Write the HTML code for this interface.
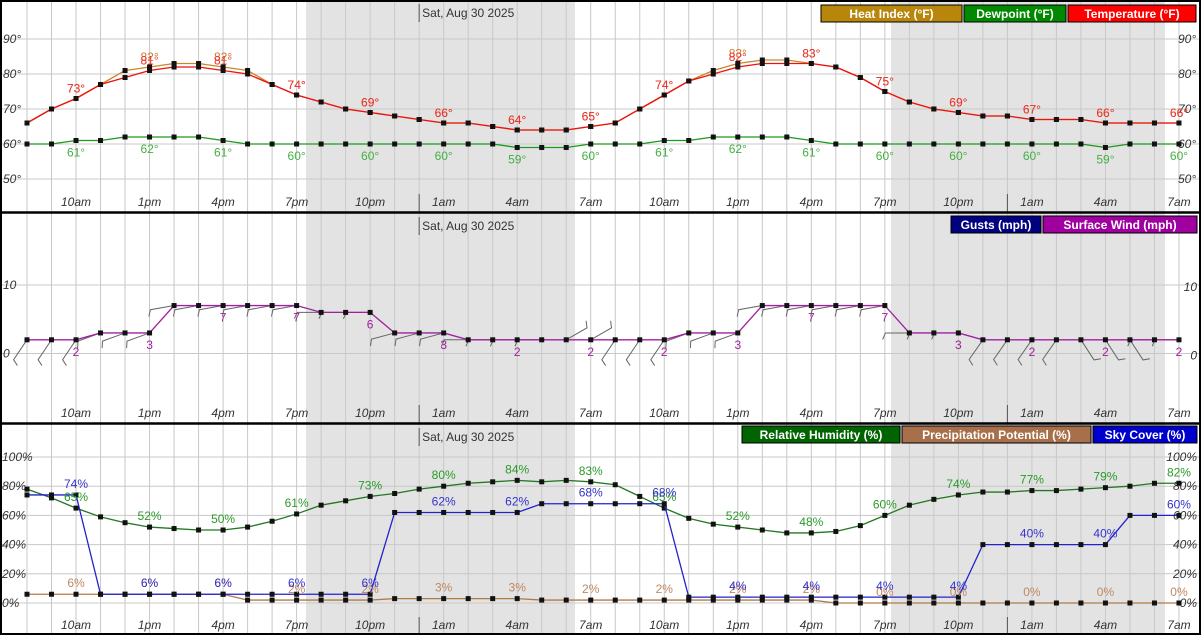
<!DOCTYPE html>
<html><head><meta charset="utf-8"><style>
html,body{margin:0;padding:0;background:#fff;}
svg{display:block;font-family:"Liberation Sans",sans-serif;}
.ax{font-size:12px;font-style:italic;fill:#333;}
.lv{font-size:12px;text-anchor:middle;}
.lg{font-size:12px;font-weight:bold;fill:#fff;}
</style></head><body>
<svg id="chart" width="1201" height="635" viewBox="0 0 1201 635"></svg>
<script>
const hours = ["10am","1pm","4pm","7pm","10pm","1am","4am","7am","10am","1pm","4pm","7pm","10pm","1am","4am","7am"];
const temperature = [66,70,73,77,79,81,82,82,81,80,77,74,72,70,69,68,67,66,66,65,64,64,64,65,66,70,74,78,80,82,83,83,83,82,79,75,72,70,69,68,68,67,67,67,66,66,66,66];
const heatIndex = [66,70,73,77,81,82,83,83,82,81,77,74,72,70,69,68,67,66,66,65,64,64,64,65,66,70,74,78,81,83,84,84,83,82,79,75,72,70,69,68,68,67,67,67,66,66,66,66];
const dewpoint = [60,60,61,61,62,62,62,62,61,60,60,60,60,60,60,60,60,60,60,60,59,59,59,60,60,60,61,61,62,62,62,62,61,60,60,60,60,60,60,60,60,60,60,60,59,60,60,60];
const windSpeed = [2,2,2,3,3,3,7,7,7,7,7,7,6,6,6,3,3,3,2,2,2,2,2,2,2,2,2,3,3,3,7,7,7,7,7,7,3,3,3,2,2,2,2,2,2,2,2,2];
const windBarbAngle = [124,124,124,160,160,160,170,170,170,170,170,170,180,180,180,165,165,165,180,180,180,180,330,330,124,124,124,160,160,160,170,170,170,170,170,170,180,180,180,125,125,125,125,57,57,57,180,180];
const humidity = [78,72,65,59,55,52,51,50,50,52,56,61,67,70,73,75,78,80,82,83,84,83,84,83,81,73,65,58,54,52,50,48,48,49,53,60,67,71,74,76,76,77,77,78,79,80,82,82];
const skyCover = [74,74,74,6,6,6,6,6,6,6,6,6,6,6,6,62,62,62,62,62,62,68,68,68,68,68,68,4,4,4,4,4,4,4,4,4,4,4,4,40,40,40,40,40,40,60,60,60];
const precip = [6,6,6,6,6,6,6,6,6,2,2,2,2,2,2,3,3,3,3,3,3,2,2,2,2,2,2,2,2,2,2,2,2,0,0,0,0,0,0,0,0,0,0,0,0,0,0,0];
const tempTicks = [50,60,70,80,90];
const windTicks = [0,10];
const pctTicks = [0,20,40,60,80,100];

const svg = document.getElementById('chart');
const NS = 'http://www.w3.org/2000/svg';
function mk(tag, attrs, parent){const e=document.createElementNS(NS,tag);for(const k in attrs)e.setAttribute(k,attrs[k]);(parent||svg).appendChild(e);return e;}
const x = i => 27 + i*24.51;
const yT = v => 144 - (v-60)*3.5;
const yW = v => 353.5 - v*6.85;
const yP = v => 603 - v*1.46;
const panels = [{top:0,bot:212},{top:213,bot:423},{top:424,bot:635}];

panels.forEach((p,pi)=>{
  let s1 = mk('rect',{x:306,y:p.top,width:269,height:p.bot-p.top,fill:'#e3e3e3'});
  
  
  let s2 = mk('rect',{x:891,y:p.top,width:274,height:p.bot-p.top,fill:'#e3e3e3'});
  
  
  for(let i=0;i<48;i++){
    mk('line',{x1:x(i),x2:x(i),y1:p.top,y2:p.bot,stroke:'#c8c8c8','stroke-width':1});
  }
  hours.forEach((h,k)=>{
    const t = mk('text',{x:x(2+3*k),y:p.bot-6,class:'ax','text-anchor':'middle'});
    t.textContent = h;
    
    
  });
  mk('line',{x1:x(16),x2:x(16),y1:p.bot-18,y2:p.bot,stroke:'#555'});
  mk('line',{x1:x(40),x2:x(40),y1:p.bot-18,y2:p.bot,stroke:'#555'});
  mk('line',{x1:x(16),x2:x(16),y1:p.top+4,y2:p.top+22,stroke:'#555'});
  const d = mk('text',{x:x(16)+3,y:p.top+17,'font-size':12,fill:'#333'});
  d.textContent = 'Sat, Aug 30 2025';
  
  
});

tempTicks.forEach(v=>{
  mk('line',{x1:0,x2:1201,y1:yT(v),y2:yT(v),stroke:'#c8c8c8'});
  const a=mk('text',{x:3,y:yT(v)+4,class:'ax'});a.textContent=v+'°';
  
  
  const b=mk('text',{x:1178,y:yT(v)+4,class:'ax'});b.textContent=v+'°';
  
  
});
windTicks.forEach(v=>{
  mk('line',{x1:0,x2:1201,y1:yW(v),y2:yW(v),stroke:'#c8c8c8'});
  const a=mk('text',{x:3,y:yW(v)+4,class:'ax'});a.textContent=v;
  
  
  const b=mk('text',{x:1197,y:yW(v)+6,class:'ax','text-anchor':'end'});b.textContent=v;
  
  
});
pctTicks.forEach(v=>{
  mk('line',{x1:0,x2:1201,y1:yP(v),y2:yP(v),stroke:'#c8c8c8'});
  const a=mk('text',{x:2,y:yP(v)+4,class:'ax'});a.textContent=v+'%';
  
  
  const b=mk('text',{x:1197,y:yP(v)+4,class:'ax','text-anchor':'end'});b.textContent=v+'%';
  
  
});

function series(arr, yf, color, name){
  const pts = arr.map((v,i)=>x(i)+','+yf(v)).join(' ');
  const l = mk('polyline',{points:pts,fill:'none',stroke:color,'stroke-width':1.3});
  
  
  arr.forEach((v,i)=>{
    const r = mk('rect',{x:x(i)-2.5,y:yf(v)-2.5,width:5,height:5,fill:'#111'});
    
    
  });
}
function labels(arr, yf, color, dy, suffix, name){
  for(let i=2;i<48;i+=3){
    const t = mk('text',{x:x(i),y:yf(arr[i])+dy,class:'lv',fill:color});
    t.textContent = arr[i]+suffix;
    
    
  }
}

series(dewpoint,yT,'#1a9a1a','dewpoint');
series(heatIndex,yT,'#c8892a','heat-index');
series(temperature,yT,'#ee1111','temperature');
labels(heatIndex,yT,'#d07a20',-6,'°','heat-index');
labels(temperature,yT,'#ee3333',-6,'°','temperature');
labels(dewpoint,yT,'#44b044',16,'°','dewpoint');

windSpeed.forEach((v,i)=>{
  const a = windBarbAngle[i]*Math.PI/180;
  const x0=x(i), y0=yW(v);
  const x1=x0+24*Math.cos(a), y1=y0+24*Math.sin(a);
  const pa = a - Math.PI/2;
  const x2=x1+7*Math.cos(pa+0.4), y2=y1+7*Math.sin(pa+0.4);
  const b = mk('polyline',{points:`${x0},${y0} ${x1},${y1} ${x2},${y2}`,fill:'none',stroke:'#666','stroke-width':1});
  
  
});
series(windSpeed,yW,'#a020a0','surface-wind');
labels(windSpeed,yW,'#a020a0',16,'','surface-wind');

series(precip,yP,'#b07a4a','precip-potential');
series(humidity,yP,'#227722','relative-humidity');
series(skyCover,yP,'#2222cc','sky-cover');
labels(precip,yP,'#c08860',-7,'%','precip-potential');
labels(humidity,yP,'#2a9a2a',-7,'%','relative-humidity');
labels(skyCover,yP,'#3333cc',-7,'%','sky-cover');

function legend(x0,y0,w,text,bg,name){
  const g = mk('g',{});
  
  
  mk('rect',{x:x0,y:y0,width:w,height:17,fill:bg,stroke:'#000','stroke-width':1},g);
  const t = mk('text',{x:x0+w/2,y:y0+13,class:'lg','text-anchor':'middle'},g);
  t.textContent=text;
}
legend(821,5,141,'Heat Index (°F)','#b8860b','legend-heat-index');
legend(964,5,102,'Dewpoint (°F)','#008800','legend-dewpoint');
legend(1068,5,128,'Temperature (°F)','#ff0000','legend-temperature');
legend(951,216,90,'Gusts (mph)','#000080','legend-gusts');
legend(1043,216,154,'Surface Wind (mph)','#a000a0','legend-surface-wind');
legend(742,426,158,'Relative Humidity (%)','#006400','legend-relative-humidity');
legend(902,426,189,'Precipitation Potential (%)','#a8704a','legend-precip-potential');
legend(1093,426,104,'Sky Cover (%)','#0000cc','legend-sky-cover');

mk('rect',{x:1,y:1,width:1199,height:633,fill:'none',stroke:'#000','stroke-width':2});
mk('line',{x1:0,x2:1201,y1:212.5,y2:212.5,stroke:'#000','stroke-width':2.5});
mk('line',{x1:0,x2:1201,y1:423.5,y2:423.5,stroke:'#000','stroke-width':2.5});
</script>
</body></html>
